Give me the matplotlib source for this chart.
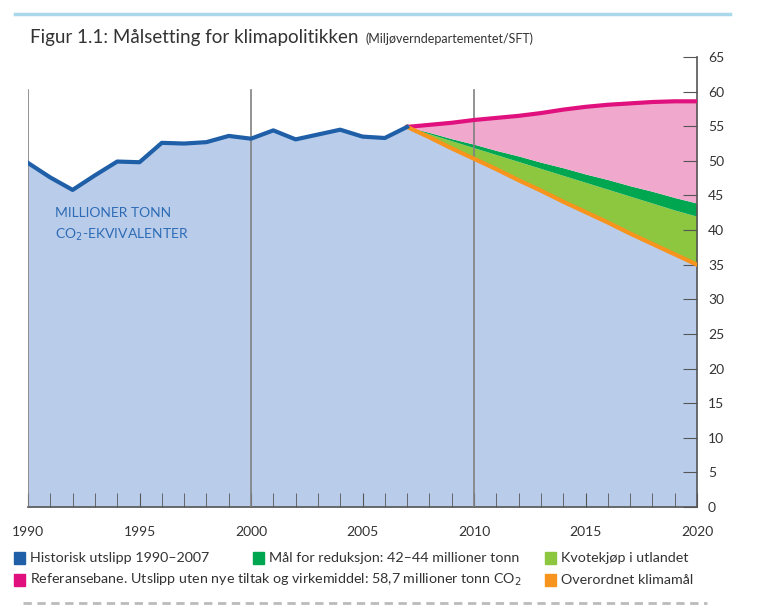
import numpy as np
import matplotlib
matplotlib.use("Agg")
import matplotlib.pyplot as plt
from matplotlib.patches import Rectangle

plt.rcParams["font.family"] = ["Lato", "DejaVu Sans"]

# historiske utslipp (mill. tonn CO2-ekv.)
hist_years = list(range(1990, 2008))
hist_vals = [49.7, 47.6, 45.8, 47.9, 49.9, 49.8, 52.6, 52.5, 52.7, 53.6,
             53.2, 54.4, 53.1, 53.8, 54.5, 53.5, 53.3, 54.9]

# framskrivinger 2007-2020
proj_years = list(range(2007, 2021))
ref_vals = [54.9, 55.2, 55.5, 55.9, 56.2, 56.5, 56.9, 57.4, 57.8, 58.1,
            58.3, 58.5, 58.6, 58.6]
goal_hi = [54.9, 54.1, 53.2, 52.4, 51.5, 50.7, 49.8, 49.0, 48.1, 47.3,
           46.4, 45.6, 44.7, 43.9]
goal_lo = [54.9, 53.9, 52.9, 51.9, 50.9, 49.9, 48.9, 47.9, 46.9, 45.9,
           44.9, 43.9, 42.9, 42.0]
klima_vals = [54.9, 53.4, 51.8, 50.3, 48.8, 47.2, 45.7, 44.1, 42.6, 41.1,
              39.5, 38.0, 36.5, 35.0]

legend_items = [
    ("Historisk utslipp 1990–2007", "#1f5fa8"),
    ("Mål for reduksjon: 42–44 millioner tonn", "#00a650"),
    ("Kvotekjøp i utlandet", "#8dc63f"),
    ("Referansebane. Utslipp uten nye tiltak og virkemiddel: 58,7 millioner tonn CO$_2$", "#e0107e"),
    ("Overordnet klimamål", "#f7941d"),
]

BLUE_FILL = "#b9cdeb"
PINK_FILL = "#f0a8cc"

fig = plt.figure(figsize=(7.6, 6.08), dpi=100)
ax = fig.add_axes([28 / 760, 1 - 507 / 608, 669 / 760, 450 / 608])

# flater
base_x = hist_years + proj_years[1:]
base_y = hist_vals + klima_vals[1:]
ax.fill_between(base_x, 0, base_y, color=BLUE_FILL, lw=0)
ax.fill_between(proj_years, klima_vals, goal_lo, color="#8dc63f", lw=0)
ax.fill_between(proj_years, goal_lo, goal_hi, color="#00a650", lw=0)
ax.fill_between(proj_years, goal_hi, ref_vals, color=PINK_FILL, lw=0)

# vertikale linjer
for yr in (1990, 2000, 2010):
    ax.plot([yr, yr], [0, 60.3], color="#808080", lw=1.2, zorder=3)

ax.plot(proj_years, ref_vals, color="#e0107e", lw=3, zorder=4)
ax.plot(proj_years, klima_vals, color="#f7941d", lw=3, zorder=4)
ax.plot(hist_years, hist_vals, color="#1f5fa8", lw=3, zorder=5)

ax.text(1991.2, 40.7, "MILLIONER TONN\nCO$_2$-EKVIVALENTER", color="#2e6bb5",
        fontsize=10, va="center", linespacing=1.6)

ax.set_xlim(1990, 2020)
ax.set_ylim(0, 65)
for s in ("top", "left"):
    ax.spines[s].set_visible(False)
ax.spines["bottom"].set_color("#555555")
ax.spines["right"].set_color("#555555")
ax.spines["bottom"].set_linewidth(1.2)
ax.spines["right"].set_linewidth(1.2)

ax.set_xticks(range(1990, 2021, 5))
ax.set_xticks(range(1990, 2021), minor=True)
ax.tick_params(axis="x", which="both", direction="in", length=10, color="#555555",
               labelsize=10, pad=14, labelcolor="#333333")
ax.yaxis.tick_right()
ax.set_yticks(range(0, 66, 5))
ax.tick_params(axis="y", direction="in", length=10, color="#555555",
               labelsize=10, pad=8, labelcolor="#333333")

# tittel
fig.text(30 / 760, 1 - 38 / 608, "Figur 1.1: Målsetting for klimapolitikken",
         fontsize=13.5, color="#333333", va="center")
fig.text(366 / 760, 1 - 39 / 608, "(Miljøverndepartementet/SFT)",
         fontsize=9, color="#333333", va="center")

# dekor topp
fig.add_artist(plt.Line2D([0.02, 0.96], [1 - 14 / 608, 1 - 14 / 608],
                          color="#a9d8ea", lw=2.5))

# forklaring
pos = [(14, 558), (253, 558), (545, 558), (14, 580), (545, 580)]
for (label, col), (px, py) in zip(legend_items, pos):
    fig.add_artist(Rectangle((px / 760, 1 - (py + 6) / 608), 11 / 760, 12 / 608,
                             color=col, transform=fig.transFigure))
    fig.text((px + 16) / 760, 1 - py / 608, label, fontsize=10.3,
             color="#333333", va="center")

# stiplet linje nederst
fig.add_artist(plt.Line2D([0.03, 0.93], [1 - 603 / 608, 1 - 603 / 608],
                          color="#bbbbbb", lw=2, ls=(0, (3, 2))))

fig.savefig("out.png", dpi=100)
